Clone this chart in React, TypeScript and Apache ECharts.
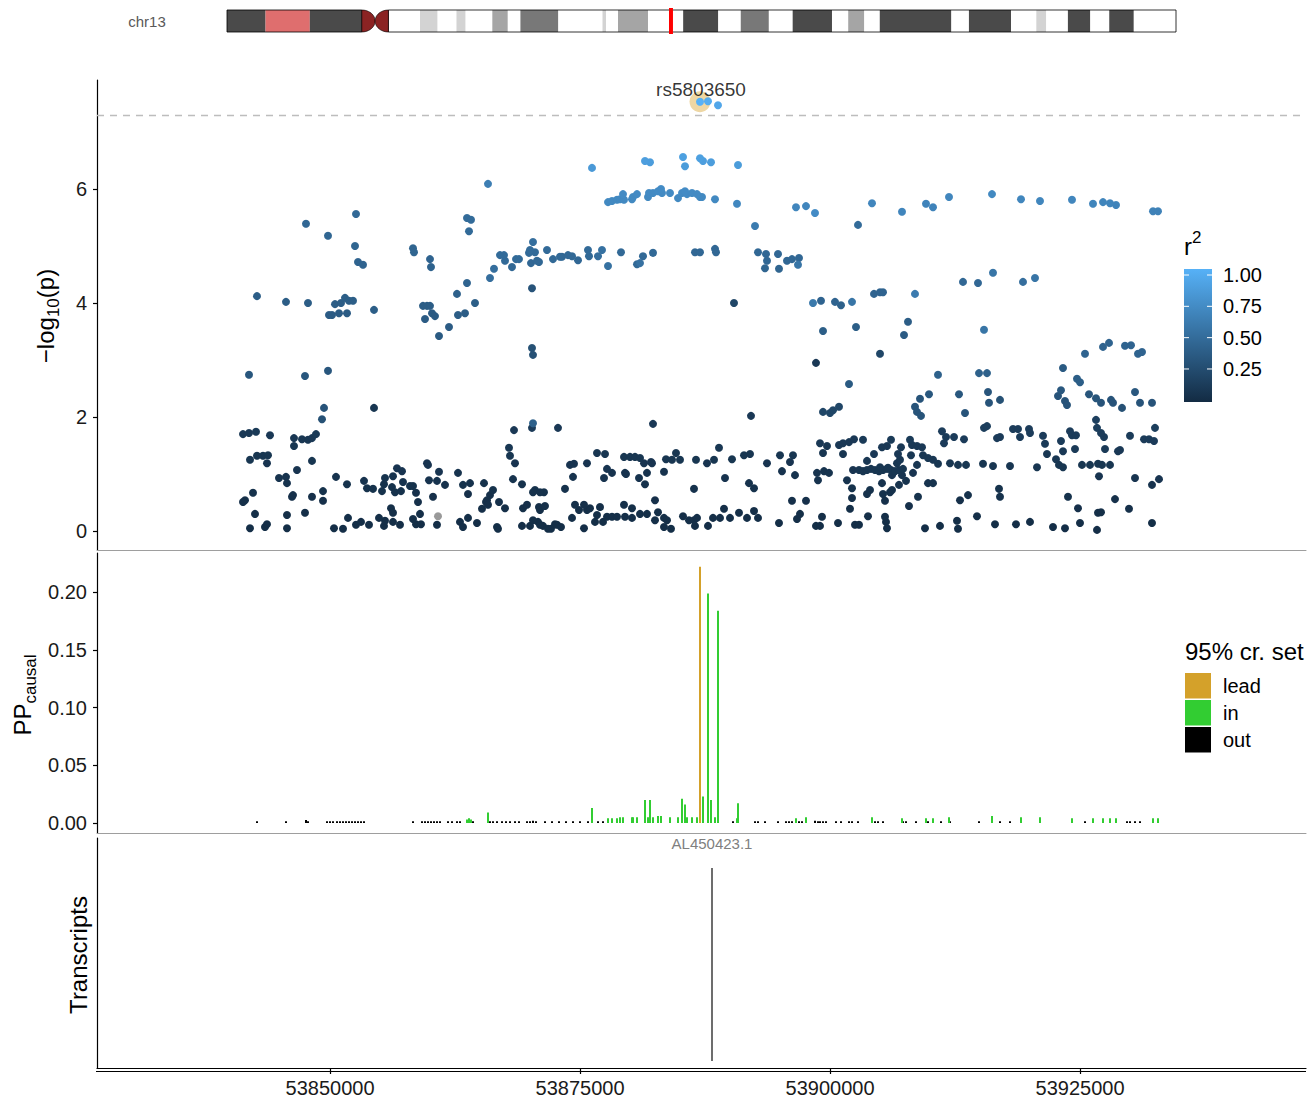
import React, { useEffect, useRef } from 'react';
import * as echarts from 'echarts';

const FONT = '"Liberation Sans", Arial, Helvetica, sans-serif';

// ---------------- axes ----------------
const X_MIN = 53826700;
const X_MAX = 53947600;
const xTicks = [53850000, 53875000, 53900000, 53925000];
const logpTicks = [0, 2, 4, 6];
const ppTicks = [0, 0.05, 0.1, 0.15, 0.2];
const r2LegendTicks = [0.25, 0.5, 0.75, 1.0];
const sigThreshold = 7.3;
const leadName = 'rs5803650';
const leadPos = 53887000;
const leadLogp = 7.53;

// ---------------- scatter data: [position, -log10(p), r2] ----------------
const snpsTop = [
  [53887000, 7.53, 1.0],
  [53887800, 7.54, 0.96],
  [53888800, 7.47, 0.92],
];
const snpsHigh = [
  [53876200, 6.37, 0.82], [53881500, 6.49, 0.86], [53882000, 6.47, 0.85], [53885300, 6.56, 0.87],
  [53885500, 6.40, 0.84], [53887000, 6.54, 0.87], [53887300, 6.49, 0.86], [53888100, 6.47, 0.85],
  [53890800, 6.42, 0.84],
];
const snpsUpper = [
  [53865800, 6.09, 0.62], [53877800, 5.77, 0.70], [53878200, 5.79, 0.70], [53878700, 5.81, 0.70],
  [53879000, 5.82, 0.70], [53879300, 5.91, 0.71], [53879400, 5.81, 0.70], [53880200, 5.82, 0.70],
  [53880300, 5.86, 0.70], [53880700, 5.91, 0.71], [53881800, 5.86, 0.70], [53881900, 5.93, 0.71],
  [53882300, 5.93, 0.71], [53882800, 5.96, 0.72], [53883100, 6.00, 0.72], [53883200, 5.93, 0.71],
  [53884000, 5.93, 0.71], [53884800, 5.84, 0.70], [53885200, 5.93, 0.71], [53885500, 5.96, 0.72],
  [53885700, 5.91, 0.71], [53886200, 5.93, 0.71], [53886700, 5.91, 0.71], [53887000, 5.86, 0.70],
  [53887200, 5.86, 0.70], [53888500, 5.82, 0.70], [53890700, 5.74, 0.69], [53892500, 5.35, 0.60],
  [53896600, 5.68, 0.68], [53897600, 5.70, 0.68], [53898500, 5.58, 0.72], [53902800, 5.37, 0.48],
  [53904200, 5.75, 0.68], [53907200, 5.60, 0.67], [53909600, 5.74, 0.66], [53910300, 5.68, 0.66],
  [53911900, 5.86, 0.68], [53916200, 5.91, 0.70], [53919100, 5.82, 0.68], [53921000, 5.79, 0.68],
  [53924200, 5.81, 0.68], [53926300, 5.74, 0.67], [53927300, 5.77, 0.67], [53928000, 5.75, 0.67],
  [53928600, 5.72, 0.66], [53932300, 5.61, 0.65], [53932800, 5.61, 0.65],
];
const snpsMid = [
  [53847600, 5.39, 0.45], [53852600, 5.56, 0.46], [53849800, 5.18, 0.44], [53852500, 5.00, 0.43],
  [53852800, 4.72, 0.42], [53853300, 4.67, 0.42], [53858300, 4.96, 0.43], [53858400, 4.89, 0.43],
  [53860000, 4.77, 0.42], [53860100, 4.63, 0.41], [53863700, 5.49, 0.48], [53864100, 5.46, 0.48],
  [53863900, 5.26, 0.47],
  [53866000, 4.44, 0.50], [53866400, 4.60, 0.50], [53867000, 4.84, 0.48], [53867400, 4.84, 0.48],
  [53867500, 4.74, 0.47], [53868200, 4.63, 0.45], [53868600, 4.77, 0.47], [53868900, 4.77, 0.47],
  [53870300, 5.07, 0.50], [53870000, 4.93, 0.48], [53870500, 4.89, 0.47], [53869900, 4.88, 0.47],
  [53870700, 4.74, 0.46], [53870100, 4.70, 0.45], [53870900, 4.72, 0.45], [53871700, 4.93, 0.47],
  [53872300, 4.77, 0.46], [53873000, 4.81, 0.46], [53873200, 4.81, 0.45], [53873800, 4.84, 0.46],
  [53874200, 4.82, 0.46], [53874800, 4.75, 0.45], [53875800, 4.93, 0.47], [53875900, 4.82, 0.46],
  [53876800, 4.82, 0.50], [53877200, 4.93, 0.52], [53877800, 4.65, 0.52], [53879100, 4.89, 0.46],
  [53880700, 4.68, 0.46], [53881000, 4.70, 0.52], [53881300, 4.82, 0.46], [53882300, 4.88, 0.46],
  [53886500, 4.89, 0.45], [53887000, 4.89, 0.45], [53888500, 4.95, 0.45], [53888600, 4.89, 0.45],
  [53892800, 4.89, 0.45], [53893600, 4.86, 0.45], [53893700, 4.74, 0.45], [53893500, 4.61, 0.43],
  [53894800, 4.86, 0.45], [53894900, 4.60, 0.43], [53895700, 4.74, 0.45], [53896200, 4.77, 0.45],
  [53896900, 4.79, 0.45], [53896800, 4.67, 0.55],
  [53898300, 4.00, 0.58], [53899100, 4.04, 0.42], [53900500, 4.02, 0.42], [53901100, 3.96, 0.40],
  [53902200, 4.02, 0.55], [53904400, 4.16, 0.42], [53905000, 4.19, 0.42], [53905300, 4.19, 0.42],
  [53908500, 4.16, 0.60], [53913300, 4.37, 0.45], [53914800, 4.35, 0.45], [53916300, 4.53, 0.55],
  [53919300, 4.37, 0.50], [53920500, 4.44, 0.55], [53915400, 3.53, 0.55],
];
const snpsModerate = [
  [53862700, 4.16, 0.40], [53863700, 4.35, 0.42], [53864500, 4.00, 0.38], [53863500, 3.82, 0.37],
  [53862800, 3.79, 0.37], [53861900, 3.58, 0.36], [53860900, 3.42, 0.35], [53859300, 3.95, 0.37],
  [53859700, 3.95, 0.37], [53860000, 3.95, 0.37], [53860200, 3.82, 0.36], [53860500, 3.77, 0.36],
  [53859500, 3.72, 0.36], [53870200, 4.26, 0.30],
  [53842700, 4.12, 0.38], [53845600, 4.02, 0.37], [53847800, 4.00, 0.37], [53850500, 3.98, 0.37],
  [53851100, 4.00, 0.37], [53851500, 4.09, 0.38], [53851900, 4.04, 0.38], [53852300, 4.04, 0.38],
  [53849900, 3.79, 0.36], [53850200, 3.79, 0.36], [53850900, 3.82, 0.36], [53851700, 3.82, 0.36],
  [53854400, 3.88, 0.38],
  [53870200, 3.21, 0.28], [53870300, 3.09, 0.28], [53841900, 2.74, 0.32], [53847500, 2.72, 0.32],
  [53849800, 2.81, 0.32], [53849400, 2.16, 0.30], [53849200, 1.96, 0.28], [53870300, 1.89, 0.40],
  [53890400, 4.00, 0.20],
  [53899300, 3.51, 0.38], [53902600, 3.58, 0.38], [53907800, 3.67, 0.37], [53907400, 3.44, 0.36],
  [53898600, 2.95, 0.10], [53905000, 3.11, 0.20], [53901900, 2.58, 0.35], [53910800, 2.74, 0.40],
  [53914900, 2.77, 0.40], [53915700, 2.77, 0.40], [53923300, 2.86, 0.35], [53925500, 3.11, 0.42],
  [53927300, 3.23, 0.42], [53927900, 3.30, 0.42], [53929500, 3.25, 0.42], [53930100, 3.26, 0.42],
  [53930800, 3.11, 0.42], [53931200, 3.14, 0.42], [53924700, 2.67, 0.38], [53925000, 2.61, 0.38],
  [53923100, 2.47, 0.33], [53922800, 2.37, 0.30], [53923500, 2.28, 0.30], [53923700, 2.21, 0.30],
  [53925900, 2.40, 0.31], [53926600, 2.33, 0.31], [53927100, 2.25, 0.30], [53928100, 2.30, 0.30],
  [53928300, 2.25, 0.30], [53929200, 2.16, 0.28], [53930500, 2.44, 0.33], [53931000, 2.25, 0.30],
  [53932200, 2.25, 0.30], [53909000, 2.32, 0.30], [53908500, 2.18, 0.30], [53908700, 2.09, 0.30],
  [53909100, 2.02, 0.30], [53909900, 2.40, 0.33], [53912900, 2.40, 0.33], [53913500, 2.07, 0.30],
  [53915800, 2.44, 0.31], [53915900, 2.25, 0.30], [53917000, 2.30, 0.28], [53899300, 2.09, 0.20],
  [53900000, 2.07, 0.20], [53900300, 2.12, 0.20], [53900900, 2.18, 0.20],
];
const snpsLowLeft = [
  [53841300, 1.70, 0.10], [53841900, 1.72, 0.10], [53842600, 1.74, 0.11], [53844000, 1.68, 0.10],
  [53846400, 1.63, 0.09], [53847200, 1.61, 0.09], [53847800, 1.60, 0.09], [53848200, 1.63, 0.10],
  [53848600, 1.70, 0.11], [53846400, 1.49, 0.08], [53842000, 1.25, 0.08], [53842700, 1.32, 0.08],
  [53843300, 1.32, 0.08], [53843800, 1.33, 0.08], [53843700, 1.19, 0.07], [53848200, 1.23, 0.08],
  [53846700, 1.07, 0.07], [53844900, 0.93, 0.06], [53845600, 0.95, 0.06], [53845700, 0.84, 0.06],
  [53850600, 0.95, 0.06], [53851700, 0.82, 0.05], [53853400, 0.88, 0.06], [53853700, 0.75, 0.05],
  [53854300, 0.74, 0.05], [53855200, 0.70, 0.05], [53855400, 0.82, 0.05], [53855500, 0.93, 0.06],
  [53856300, 0.96, 0.06], [53856700, 1.10, 0.07], [53857200, 1.05, 0.07], [53856200, 0.77, 0.05],
  [53856500, 0.68, 0.05], [53857100, 0.70, 0.05], [53857300, 0.86, 0.06], [53858000, 0.79, 0.05],
  [53858300, 0.79, 0.05], [53858600, 0.67, 0.04], [53859700, 1.19, 0.07], [53859800, 1.16, 0.07],
  [53860900, 1.04, 0.07], [53859900, 0.89, 0.06], [53860700, 0.88, 0.06], [53861500, 0.81, 0.05],
  [53860300, 0.60, 0.04], [53858800, 0.51, 0.04], [53862800, 1.02, 0.06], [53863300, 0.81, 0.05],
  [53864000, 0.84, 0.05], [53863800, 0.65, 0.04], [53865400, 0.84, 0.05], [53866300, 0.72, 0.05],
  [53866000, 0.63, 0.04], [53865700, 0.54, 0.04], [53865600, 0.51, 0.04], [53865800, 0.46, 0.04],
  [53865200, 0.39, 0.03], [53866900, 0.51, 0.04], [53867500, 0.40, 0.03], [53867900, 1.46, 0.09],
  [53868000, 1.32, 0.08], [53868500, 1.19, 0.07], [53868300, 0.91, 0.06], [53869200, 0.82, 0.05],
  [53870500, 0.72, 0.05], [53870300, 0.68, 0.05], [53871400, 0.68, 0.05], [53869300, 0.40, 0.03],
  [53869700, 0.46, 0.04], [53871000, 0.37, 0.03], [53871500, 0.44, 0.04], [53841500, 0.54, 0.04],
  [53841300, 0.51, 0.04], [53842300, 0.67, 0.05], [53842500, 0.30, 0.03], [53842000, 0.05, 0.02],
  [53843500, 0.07, 0.02], [53843700, 0.12, 0.02], [53845700, 0.28, 0.03], [53845700, 0.05, 0.02],
  [53846200, 0.60, 0.04], [53846300, 0.63, 0.04], [53847500, 0.32, 0.03], [53848200, 0.60, 0.04],
  [53849300, 0.70, 0.05], [53849300, 0.53, 0.04], [53850400, 0.05, 0.02], [53851300, 0.04, 0.02],
  [53851800, 0.23, 0.03], [53852600, 0.11, 0.02], [53853100, 0.16, 0.02], [53853900, 0.11, 0.02],
  [53854900, 0.23, 0.03], [53855400, 0.09, 0.02], [53855500, 0.18, 0.02], [53856300, 0.16, 0.02],
  [53857000, 0.11, 0.02], [53856100, 0.40, 0.03], [53856300, 0.32, 0.03], [53858300, 0.21, 0.03],
  [53858600, 0.12, 0.02], [53859000, 0.30, 0.03], [53859100, 0.12, 0.02], [53860700, 0.11, 0.02],
  [53863000, 0.16, 0.02], [53863300, 0.07, 0.02], [53863800, 0.23, 0.03], [53864700, 0.14, 0.02],
  [53866700, 0.07, 0.02], [53866800, 0.04, 0.02], [53869200, 0.09, 0.02], [53870000, 0.09, 0.02],
  [53870300, 0.19, 0.03], [53870800, 0.16, 0.02], [53871300, 0.09, 0.02], [53872100, 0.04, 0.02],
  [53872700, 0.11, 0.02], [53854400, 2.16, 0.08], [53868400, 1.77, 0.10], [53872800, 1.81, 0.10],
  [53882300, 1.88, 0.10], [53892100, 2.02, 0.10], [53870200, 1.81, 0.12],
];
const snpsLowMiddle = [
  [53876700, 1.37, 0.08], [53877500, 1.35, 0.08], [53874000, 1.16, 0.07], [53874400, 1.18, 0.07],
  [53875700, 1.19, 0.07], [53879400, 1.30, 0.08], [53880000, 1.30, 0.08], [53880500, 1.30, 0.08],
  [53881000, 1.28, 0.08], [53881400, 1.19, 0.07], [53882100, 1.21, 0.07], [53882200, 1.19, 0.07],
  [53883600, 1.26, 0.08], [53884200, 1.25, 0.08], [53884600, 1.37, 0.08], [53885000, 1.25, 0.08],
  [53886600, 1.25, 0.08], [53887700, 1.19, 0.07], [53888400, 1.25, 0.08], [53888900, 1.46, 0.09],
  [53890200, 1.26, 0.08], [53891400, 1.33, 0.08], [53892000, 1.35, 0.08], [53893700, 1.19, 0.07],
  [53895000, 1.33, 0.08], [53896300, 1.33, 0.08], [53896000, 1.21, 0.07], [53877700, 1.09, 0.07],
  [53878200, 1.02, 0.06], [53877400, 0.93, 0.06], [53874300, 0.95, 0.06], [53879500, 1.02, 0.06],
  [53879600, 1.00, 0.06], [53880900, 0.93, 0.06], [53881700, 1.02, 0.06], [53881500, 0.82, 0.05],
  [53883400, 1.04, 0.06], [53886400, 0.74, 0.05], [53889500, 0.93, 0.06], [53891900, 0.84, 0.05],
  [53892400, 0.75, 0.05], [53895200, 1.05, 0.06], [53896500, 0.98, 0.06], [53873500, 0.74, 0.05],
  [53871000, 0.68, 0.05], [53882500, 0.54, 0.04], [53896200, 0.53, 0.04], [53897600, 0.53, 0.04],
  [53870900, 0.42, 0.03], [53871000, 0.11, 0.02], [53871800, 0.04, 0.02], [53872500, 0.12, 0.02],
  [53873100, 0.07, 0.02], [53874200, 0.23, 0.03], [53874500, 0.46, 0.04], [53874900, 0.37, 0.03],
  [53875400, 0.46, 0.04], [53875700, 0.37, 0.03], [53876000, 0.40, 0.03], [53875400, 0.05, 0.02],
  [53876500, 0.16, 0.02], [53876700, 0.28, 0.03], [53877000, 0.42, 0.03], [53877300, 0.16, 0.02],
  [53877700, 0.25, 0.03], [53878200, 0.25, 0.03], [53878700, 0.25, 0.03], [53879400, 0.46, 0.04],
  [53879500, 0.25, 0.03], [53880200, 0.40, 0.03], [53880200, 0.23, 0.03], [53881000, 0.30, 0.03],
  [53881700, 0.30, 0.03], [53882500, 0.19, 0.03], [53882800, 0.33, 0.03], [53883400, 0.23, 0.03],
  [53883700, 0.19, 0.03], [53883400, 0.07, 0.02], [53884100, 0.04, 0.02], [53885300, 0.26, 0.03],
  [53885900, 0.19, 0.03], [53886400, 0.19, 0.03], [53886700, 0.23, 0.03], [53886500, 0.09, 0.02],
  [53887800, 0.09, 0.02], [53888300, 0.23, 0.03], [53889000, 0.23, 0.03], [53889400, 0.39, 0.03],
  [53890000, 0.23, 0.03], [53890900, 0.32, 0.03], [53891700, 0.23, 0.03], [53892400, 0.35, 0.03],
  [53892800, 0.23, 0.03], [53894900, 0.14, 0.02], [53896700, 0.21, 0.03], [53897000, 0.30, 0.03],
  [53898600, 0.09, 0.02], [53899200, 0.25, 0.03], [53899000, 0.09, 0.02], [53900800, 0.14, 0.02],
  [53899000, 1.54, 0.10], [53899700, 1.49, 0.09], [53899300, 1.37, 0.08], [53898700, 1.02, 0.06],
  [53898800, 0.89, 0.06], [53899400, 1.05, 0.06], [53899900, 1.02, 0.06], [53900900, 1.51, 0.10],
  [53901300, 1.54, 0.10], [53901900, 1.56, 0.10], [53902400, 1.61, 0.10], [53901300, 1.35, 0.08],
  [53902300, 1.07, 0.07], [53901700, 0.89, 0.06], [53902200, 0.75, 0.05], [53902200, 0.58, 0.04],
  [53902000, 0.39, 0.03], [53902500, 0.11, 0.02],
];
const snpsLowRight = [
  [53915400, 1.81, 0.14], [53915700, 1.84, 0.14], [53911200, 1.75, 0.13], [53911600, 1.65, 0.12],
  [53911400, 1.54, 0.12], [53912400, 1.65, 0.12], [53913400, 1.61, 0.12], [53916700, 1.63, 0.12],
  [53917000, 1.65, 0.12], [53918300, 1.79, 0.13], [53918800, 1.79, 0.13], [53919900, 1.79, 0.13],
  [53919000, 1.65, 0.12], [53920000, 1.72, 0.13], [53921300, 1.67, 0.12], [53921500, 1.53, 0.11],
  [53923100, 1.58, 0.12], [53923300, 1.40, 0.10], [53924000, 1.75, 0.13], [53924200, 1.68, 0.12],
  [53924600, 1.68, 0.12], [53924500, 1.44, 0.11], [53926600, 1.95, 0.15], [53926700, 1.81, 0.14],
  [53927100, 1.72, 0.13], [53927400, 1.65, 0.12], [53927500, 1.44, 0.11], [53928800, 1.40, 0.10],
  [53930000, 1.67, 0.12], [53931400, 1.61, 0.12], [53931900, 1.61, 0.12], [53932400, 1.58, 0.12],
  [53932500, 1.81, 0.14],
  [53902900, 1.07, 0.08], [53903300, 1.05, 0.08], [53903700, 1.07, 0.08], [53904100, 1.09, 0.08],
  [53904500, 1.07, 0.08], [53904900, 1.05, 0.08], [53905300, 1.07, 0.08], [53905700, 1.09, 0.08],
  [53906100, 1.07, 0.08], [53906500, 1.05, 0.08], [53906900, 1.07, 0.08], [53907300, 1.09, 0.08],
  [53903300, 1.60, 0.11], [53904400, 1.35, 0.10], [53905200, 1.47, 0.10], [53905700, 1.49, 0.10],
  [53906100, 1.60, 0.11], [53907100, 1.47, 0.10], [53906800, 1.35, 0.10], [53908000, 1.60, 0.11],
  [53908200, 1.51, 0.10], [53908700, 1.49, 0.10], [53909200, 1.47, 0.10], [53908100, 1.33, 0.09],
  [53909300, 1.33, 0.09], [53909800, 1.28, 0.09], [53910300, 1.25, 0.09], [53910800, 1.18, 0.08],
  [53903700, 1.23, 0.09], [53905000, 1.12, 0.08], [53905800, 1.11, 0.08], [53906700, 1.19, 0.08],
  [53907000, 1.25, 0.09], [53905200, 0.84, 0.06], [53906200, 0.98, 0.07], [53907200, 0.98, 0.07],
  [53907600, 0.88, 0.06], [53908300, 1.02, 0.07], [53908700, 1.16, 0.08], [53909800, 0.84, 0.06],
  [53910300, 0.84, 0.06], [53912000, 1.19, 0.08], [53912800, 1.16, 0.08], [53913600, 1.16, 0.08],
  [53915300, 1.18, 0.08], [53916300, 1.14, 0.08], [53918000, 1.14, 0.08], [53920700, 1.12, 0.08],
  [53921700, 1.35, 0.09], [53922600, 1.26, 0.09], [53922900, 1.16, 0.08], [53923300, 1.12, 0.08],
  [53925200, 1.16, 0.08], [53926000, 1.16, 0.08], [53926800, 1.18, 0.08], [53927200, 1.16, 0.08],
  [53928000, 1.16, 0.08], [53926900, 0.96, 0.07], [53929000, 1.42, 0.10], [53930500, 0.93, 0.07],
  [53932200, 0.81, 0.06], [53932900, 0.91, 0.07], [53916900, 0.74, 0.05], [53917000, 0.60, 0.05],
  [53913000, 0.54, 0.04], [53913800, 0.63, 0.05], [53908800, 0.60, 0.05], [53907900, 0.44, 0.04],
  [53904000, 0.72, 0.05], [53903700, 0.65, 0.05], [53905300, 0.65, 0.05], [53905500, 0.53, 0.04],
  [53906000, 0.68, 0.05], [53906900, 0.81, 0.06], [53906200, 0.72, 0.05], [53903800, 0.26, 0.03],
  [53905500, 0.25, 0.03], [53905600, 0.16, 0.02], [53905700, 0.05, 0.02], [53902900, 0.11, 0.02],
  [53909500, 0.05, 0.02], [53911000, 0.09, 0.02], [53912700, 0.18, 0.02], [53912800, 0.04, 0.02],
  [53914700, 0.26, 0.03], [53916500, 0.12, 0.02], [53918600, 0.12, 0.02], [53920000, 0.16, 0.02],
  [53922300, 0.07, 0.02], [53923500, 0.05, 0.02], [53925000, 0.14, 0.02], [53926700, 0.02, 0.02],
  [53926800, 0.32, 0.03], [53927100, 0.33, 0.03], [53923800, 0.60, 0.05], [53924800, 0.40, 0.04],
  [53928500, 0.56, 0.04], [53929900, 0.39, 0.04], [53932200, 0.14, 0.02],
];
const snpsNoLD = [[53860800, 0.26]];

// ---------------- fine-mapping (PP causal) ----------------
const ppLead = [[53887000, 0.222]];
const ppIn = [
  [53865800, 0.009], [53863700, 0.003], [53863900, 0.004], [53864100, 0.003], [53876200, 0.013],
  [53877800, 0.004], [53878200, 0.004], [53878700, 0.004], [53879000, 0.005], [53879300, 0.005],
  [53880200, 0.005], [53880300, 0.005], [53880700, 0.005], [53881800, 0.005], [53882300, 0.005],
  [53882800, 0.006], [53883100, 0.006], [53884000, 0.005], [53884800, 0.005], [53885700, 0.005],
  [53886200, 0.005], [53886700, 0.005], [53888500, 0.005], [53890700, 0.004],
  [53881500, 0.020], [53882000, 0.020], [53885200, 0.021], [53885500, 0.016], [53887300, 0.023],
  [53888100, 0.020], [53887800, 0.199], [53888800, 0.184], [53890800, 0.017],
  [53896600, 0.004], [53897600, 0.005], [53904200, 0.005], [53907200, 0.004], [53909600, 0.004],
  [53910300, 0.004], [53911900, 0.005], [53916200, 0.006], [53919100, 0.005], [53921000, 0.005],
  [53924200, 0.004], [53926300, 0.004], [53927300, 0.004], [53928000, 0.004], [53928600, 0.004],
  [53932300, 0.004], [53932800, 0.004],
];
const ppOut = [
  [53842700, 0.0015], [53845600, 0.0015], [53847600, 0.0025], [53847800, 0.0015], [53849700, 0.0015],
  [53850000, 0.0015], [53850300, 0.0015], [53850700, 0.0015], [53851000, 0.0015], [53851300, 0.0015],
  [53851600, 0.0015], [53851900, 0.0015], [53852200, 0.0015], [53852500, 0.0015], [53852800, 0.0015],
  [53853100, 0.0015], [53853400, 0.0015], [53858300, 0.0015], [53859200, 0.0015], [53859500, 0.0015],
  [53859800, 0.0015], [53860100, 0.0015], [53860400, 0.0015], [53860700, 0.0015], [53861000, 0.0015],
  [53861800, 0.0015], [53862200, 0.0015], [53862700, 0.0015], [53863000, 0.0015], [53864300, 0.0015],
  [53866000, 0.0015], [53866300, 0.0015], [53866700, 0.0015], [53867200, 0.0015], [53867600, 0.0015],
  [53868000, 0.0015], [53868500, 0.0015], [53868900, 0.0015], [53869700, 0.0015], [53870000, 0.0015],
  [53870300, 0.002], [53870600, 0.0015], [53871500, 0.0015], [53872200, 0.0015], [53872900, 0.0015],
  [53873600, 0.0015], [53874300, 0.0015], [53875000, 0.0015], [53875800, 0.0015], [53876800, 0.0015],
  [53877300, 0.0015], [53888500, 0.002], [53890300, 0.0015], [53892500, 0.0015], [53892800, 0.0015],
  [53893500, 0.0015], [53894800, 0.0015], [53895600, 0.0015], [53895900, 0.0015], [53896200, 0.0015],
  [53896900, 0.0015], [53897200, 0.0015], [53898500, 0.002], [53898800, 0.0015], [53899000, 0.0015],
  [53899300, 0.0015], [53899600, 0.0015], [53900600, 0.0015], [53901100, 0.0015], [53901900, 0.0015],
  [53902200, 0.0015], [53902800, 0.0015], [53904500, 0.0015], [53904800, 0.0015], [53905300, 0.0015],
  [53907300, 0.0015], [53907600, 0.0015], [53908600, 0.0015], [53909800, 0.0015], [53911100, 0.0015],
  [53912000, 0.0015], [53914900, 0.0015], [53917000, 0.0015], [53918000, 0.0015], [53925500, 0.0015],
  [53929700, 0.0015], [53930000, 0.0015], [53930500, 0.0015], [53931000, 0.0015],
];

// ---------------- transcripts ----------------
const transcripts = [{ name: 'AL450423.1', start: 53888100, end: 53888300 }];

// ---------------- ideogram (chr13, Mb) ----------------
const chromName = 'chr13';
const chromLengthMb = 115.17;
const regionMb = 53.88;
const cytobands: [number, number, string][] = [
  [0, 4.68, 'gpos100'], [4.68, 10.05, 'stalk'], [10.05, 16.36, 'gpos100'], [16.36, 19.59, 'acen'],
  [19.59, 23.42, 'gneg'], [23.42, 25.56, 'gpos25'], [25.56, 27.85, 'gneg'], [27.85, 28.96, 'gpos25'],
  [28.96, 32.2, 'gneg'], [32.2, 34.08, 'gpos50'], [34.08, 35.61, 'gneg'], [35.61, 40.21, 'gpos75'],
  [40.21, 45.57, 'gneg'], [45.57, 46.0, 'gpos25'], [46.0, 47.45, 'gneg'], [47.45, 51.09, 'gpos50'],
  [51.09, 55.36, 'gneg'], [55.36, 59.62, 'gpos100'], [59.62, 62.35, 'gneg'], [62.35, 65.76, 'gpos75'],
  [65.76, 68.65, 'gneg'], [68.65, 73.42, 'gpos100'], [73.42, 75.39, 'gneg'], [75.39, 77.34, 'gpos50'],
  [77.34, 79.22, 'gneg'], [79.22, 87.91, 'gpos100'], [87.91, 90.04, 'gneg'], [90.04, 95.15, 'gpos100'],
  [95.15, 98.22, 'gneg'], [98.22, 99.42, 'gpos25'], [99.42, 102.05, 'gneg'], [102.05, 104.77, 'gpos100'],
  [104.77, 107.07, 'gneg'], [107.07, 110.05, 'gpos100'], [110.05, 115.17, 'gneg'],
];
const stainColors: Record<string, string> = {
  gneg: '#FFFFFF', gpos25: '#D3D3D3', gpos50: '#A5A5A5', gpos75: '#787878',
  gpos100: '#4A4A4A', stalk: '#DF6E6E', acen: '#8B2323',
};

const credibleColors = { lead: '#D4A12A', in: '#32CD32', out: '#000000' };

function buildIdeogram() {
  const X0 = 227, W = 949, TOP = 10, H = 22;
  const px = (mb: number) => X0 + (mb / chromLengthMb) * W;
  const els: any[] = [];
  let acen: [number, number] = [0, 0];
  cytobands.forEach(([s, e, st]) => {
    if (st === 'acen') { acen = [px(s), px(e)]; return; }
    els.push({ type: 'rect', shape: { x: px(s), y: TOP, width: px(e) - px(s), height: H }, style: { fill: stainColors[st] } });
  });
  els.push({ type: 'rect', shape: { x: X0, y: TOP, width: acen[0] - X0, height: H }, style: { fill: 'none', stroke: '#000', lineWidth: 0.8 } });
  els.push({ type: 'rect', shape: { x: acen[1], y: TOP, width: X0 + W - acen[1], height: H }, style: { fill: 'none', stroke: '#000', lineWidth: 0.8 } });
  const mid = (acen[0] + acen[1]) / 2;
  const cy = TOP + H / 2;
  const half = (x0: number, dir: number) => {
    const pts: number[][] = [];
    for (let i = 0; i <= 24; i++) {
      const t = -Math.PI / 2 + (Math.PI * i) / 24;
      pts.push([x0 + dir * Math.abs(mid - x0) * Math.cos(t), cy + (H / 2) * Math.sin(t)]);
    }
    return pts;
  };
  els.push({ type: 'polygon', shape: { points: half(acen[0], 1) }, style: { fill: stainColors.acen, stroke: '#000', lineWidth: 0.6 } });
  els.push({ type: 'polygon', shape: { points: half(acen[1], -1) }, style: { fill: stainColors.acen, stroke: '#000', lineWidth: 0.6 } });
  els.push({ type: 'rect', shape: { x: px(regionMb) - 2, y: TOP - 2, width: 4, height: H + 4 }, style: { fill: '#FF0000' } });
  els.push({ type: 'text', x: 147, y: TOP + H / 2, style: { text: chromName, fill: '#595959', fontSize: 15, fontFamily: FONT, align: 'center', verticalAlign: 'middle', textAlign: 'center', textVerticalAlign: 'middle' } });
  return els;
}

function richTitle(text: string, x: number, y: number, rotate: boolean, sub: boolean) {
  return {
    type: 'text', x, y, rotation: rotate ? Math.PI / 2 : 0,
    style: {
      text,
      align: rotate ? 'center' : 'left', verticalAlign: 'middle',
      textAlign: rotate ? 'center' : 'left', textVerticalAlign: 'middle',
      rich: {
        a: { fontSize: 24, fontFamily: FONT, fill: '#000', lineHeight: 34, verticalAlign: 'middle' },
        b: { fontSize: 17, fontFamily: FONT, fill: '#000', lineHeight: 17, verticalAlign: sub ? 'bottom' : 'top' },
      },
    },
  };
}

function buildLegends() {
  const els: any[] = [];
  const barX = 1184, barW = 28, barTop = 269, barBottom = 402;
  const yOf = (r: number) => 400.3 - r * 125.3;
  els.push(richTitle('{a|r}{b|2}', 1184, 246, false, false));
  els.push({
    type: 'rect', shape: { x: barX, y: barTop, width: barW, height: barBottom - barTop },
    style: { fill: new echarts.graphic.LinearGradient(0, 0, 0, 1, [{ offset: 0, color: '#56B1F7' }, { offset: 1, color: '#132B43' }]) },
  });
  r2LegendTicks.forEach((r) => {
    const y = yOf(r);
    els.push({ type: 'line', shape: { x1: barX, y1: y, x2: barX + 5, y2: y }, style: { stroke: '#FFFFFF', lineWidth: 1 } });
    els.push({ type: 'line', shape: { x1: barX + barW - 5, y1: y, x2: barX + barW, y2: y }, style: { stroke: '#FFFFFF', lineWidth: 1 } });
    els.push({ type: 'text', x: 1223, y, style: { text: r.toFixed(2), fontSize: 20, fontFamily: FONT, fill: '#000', align: 'left', verticalAlign: 'middle', textAlign: 'left', textVerticalAlign: 'middle' } });
  });
  els.push({ type: 'text', x: 1185, y: 651, style: { text: '95% cr. set', fontSize: 24, fontFamily: FONT, fill: '#000', align: 'left', verticalAlign: 'middle', textAlign: 'left', textVerticalAlign: 'middle' } });
  const keys: [string, string][] = [['lead', credibleColors.lead], ['in', credibleColors.in], ['out', credibleColors.out]];
  keys.forEach(([k, c], i) => {
    const y = 673 + i * 27;
    els.push({ type: 'rect', shape: { x: 1185, y, width: 26, height: 25.5 }, style: { fill: c } });
    els.push({ type: 'text', x: 1223, y: y + 13, style: { text: k, fontSize: 20, fontFamily: FONT, fill: '#000', align: 'left', verticalAlign: 'middle', textAlign: 'left', textVerticalAlign: 'middle' } });
  });
  return els;
}

function buildOption() {
  const allSnps = [...snpsTop, ...snpsHigh, ...snpsUpper, ...snpsMid, ...snpsModerate, ...snpsLowLeft, ...snpsLowMiddle, ...snpsLowRight]
    .slice()
    .sort((a, b) => a[2] - b[2]);

  const tickLabel = { fontSize: 20, color: '#1a1a1a', fontFamily: FONT };
  const blackLine = { color: '#000', width: 1.2 };
  const grayLine = { color: '#9E9E9E', width: 1 };

  const xBase = { type: 'value', min: X_MIN, max: X_MAX, splitLine: { show: false } };

  const barRender = (color: string) => (params: any, api: any) => {
    const x = api.value(0);
    const v = api.value(1);
    const p0 = api.coord([x, 0]);
    const p1 = api.coord([x, v]);
    return { type: 'rect', shape: { x: p0[0] - 1, y: p1[1], width: 2, height: Math.max(p0[1] - p1[1], 1) }, style: { fill: color } };
  };

  return {
    animation: false,
    backgroundColor: '#FFFFFF',
    textStyle: { fontFamily: FONT },
    grid: [
      { left: 97, top: 80, width: 1209, height: 470 },
      { left: 97, top: 553, width: 1209, height: 280 },
      { left: 97, top: 838, width: 1209, height: 230 },
    ],
    xAxis: [
      { ...xBase, gridIndex: 0, axisLine: { show: true, onZero: false, lineStyle: grayLine }, axisTick: { show: false }, axisLabel: { show: false } },
      { ...xBase, gridIndex: 1, axisLine: { show: true, onZero: false, lineStyle: grayLine }, axisTick: { show: false }, axisLabel: { show: false } },
      {
        ...xBase, gridIndex: 2,
        axisLine: { show: true, onZero: false, lineStyle: blackLine },
        axisTick: { show: true, length: 6, customValues: xTicks, lineStyle: blackLine },
        axisLabel: { show: true, customValues: xTicks, margin: 10, formatter: (v: number) => String(v), ...tickLabel },
      },
    ],
    yAxis: [
      {
        type: 'value', gridIndex: 0, min: -0.333, max: 7.912, splitLine: { show: false },
        axisLine: { show: true, onZero: false, lineStyle: blackLine },
        axisTick: { show: true, length: 4, customValues: logpTicks, lineStyle: blackLine },
        axisLabel: { show: true, customValues: logpTicks, margin: 10, formatter: (v: number) => String(v), ...tickLabel },
      },
      {
        type: 'value', gridIndex: 1, min: -0.0087, max: 0.234, splitLine: { show: false },
        axisLine: { show: true, onZero: false, lineStyle: blackLine },
        axisTick: { show: true, length: 4, customValues: ppTicks, lineStyle: blackLine },
        axisLabel: { show: true, customValues: ppTicks, margin: 10, formatter: (v: number) => v.toFixed(2), ...tickLabel },
      },
      {
        type: 'value', gridIndex: 2, min: 0, max: 1, splitLine: { show: false },
        axisLine: { show: true, onZero: false, lineStyle: blackLine },
        axisTick: { show: false }, axisLabel: { show: false },
      },
    ],
    visualMap: [{
      type: 'continuous', show: false, dimension: 2, min: 0, max: 1, seriesIndex: 0,
      inRange: { color: ['#132B43', '#56B1F7'] },
    }],
    series: [
      {
        type: 'scatter', name: 'snps', xAxisIndex: 0, yAxisIndex: 0, z: 4,
        data: allSnps, symbolSize: 8, itemStyle: { opacity: 1 },
        markLine: {
          silent: true, symbol: ['none', 'none'], label: { show: false },
          lineStyle: { color: '#BDBDBD', width: 1.3, type: [7, 6] },
          data: [{ yAxis: sigThreshold }],
        },
      },
      {
        type: 'scatter', name: 'noLD', xAxisIndex: 0, yAxisIndex: 0, z: 4,
        data: snpsNoLD, symbolSize: 8, itemStyle: { color: '#7F7F7F' },
      },
      {
        type: 'scatter', name: 'leadHighlight', xAxisIndex: 0, yAxisIndex: 0, z: 3,
        data: [[leadPos, leadLogp]], symbolSize: 21,
        itemStyle: { color: 'rgba(228,192,112,0.8)' },
        label: { show: true, position: 'inside', offset: [1, -12], formatter: leadName, fontSize: 19, color: '#000', fontFamily: FONT },
      },
      { type: 'custom', name: 'out', xAxisIndex: 1, yAxisIndex: 1, data: ppOut, encode: { x: 0, y: 1 }, renderItem: barRender(credibleColors.out), z: 2 },
      { type: 'custom', name: 'in', xAxisIndex: 1, yAxisIndex: 1, data: ppIn, encode: { x: 0, y: 1 }, renderItem: barRender(credibleColors.in), z: 3 },
      { type: 'custom', name: 'lead', xAxisIndex: 1, yAxisIndex: 1, data: ppLead, encode: { x: 0, y: 1 }, renderItem: barRender(credibleColors.lead), z: 4 },
      {
        type: 'custom', name: 'transcripts', xAxisIndex: 2, yAxisIndex: 2,
        data: transcripts.map((t) => [t.start, t.end]), encode: { x: [0, 1] },
        renderItem: (params: any, api: any) => {
          const s = api.value(0), e = api.value(1);
          const xm = (api.coord([s, 0])[0] + api.coord([e, 0])[0]) / 2;
          const yb = api.coord([s, 0.03])[1];
          const yt = api.coord([s, 0.87])[1];
          const yl = api.coord([s, 0.975])[1];
          return {
            type: 'group',
            children: [
              { type: 'line', shape: { x1: xm, y1: yb, x2: xm, y2: yt }, style: { stroke: '#3C3C3C', lineWidth: 1.5 } },
              { type: 'text', x: xm, y: yl, style: { text: transcripts[params.dataIndex].name, fill: '#7F7F7F', fontSize: 15, fontFamily: FONT, align: 'center', verticalAlign: 'middle', textAlign: 'center', textVerticalAlign: 'middle' } },
            ],
          };
        },
      },
    ],
    graphic: [
      ...buildIdeogram(),
      ...buildLegends(),
      { type: 'line', shape: { x1: 96, y1: 1071.5, x2: 1306, y2: 1071.5 }, style: { stroke: '#000', lineWidth: 1.2 } },
      richTitle('{a|−log}{b|10}{a|(p)}', 45, 316, true, true),
      richTitle('{a|PP}{b|causal}', 22, 695, true, true),
      { type: 'text', x: 78, y: 955, rotation: Math.PI / 2, style: { text: 'Transcripts', fontSize: 24, fontFamily: FONT, fill: '#000', align: 'center', verticalAlign: 'middle', textAlign: 'center', textVerticalAlign: 'middle' } },
    ],
  };
}

export default function App() {
  const ref = useRef<HTMLDivElement>(null);
  useEffect(() => {
    document.body.style.margin = '0';
    const chart = echarts.init(ref.current as HTMLDivElement, null, { renderer: 'svg' });
    chart.setOption(buildOption() as any);
    return () => chart.dispose();
  }, []);
  return <div ref={ref} style={{ position: 'absolute', left: 0, top: 0, width: 1314, height: 1103 }} />;
}
